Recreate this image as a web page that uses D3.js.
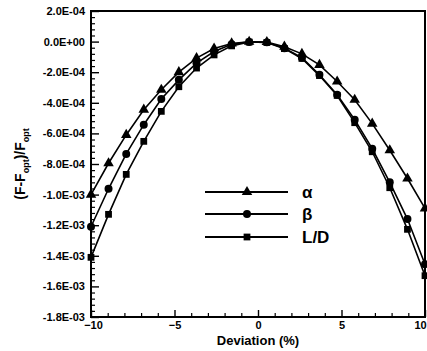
<!DOCTYPE html>
<html><head><meta charset="utf-8">
<script src="https://cdn.jsdelivr.net/npm/d3@7"></script>
<style>body{margin:0;background:#fff}svg{display:block}text{font-family:"Liberation Sans",Arial,sans-serif;font-weight:bold;fill:#000}</style>
</head><body><svg id="c" width="427" height="351"></svg>
<script>
const deviation = [-10, -8.95, -7.89, -6.84, -5.79, -4.74, -3.68, -2.63, -1.58, -0.53, 0.53, 1.58, 2.63, 3.68, 4.74, 5.79, 6.84, 7.89, 8.95, 10];
const alpha = [-1.0e-3, -7.95e-4, -6.1e-4, -4.45e-4, -3.15e-4, -2.0e-4, -1.08e-4, -4.5e-5, -1.2e-5, -1e-6, -3e-6, -3.3e-5, -8.0e-5, -1.52e-4, -2.61e-4, -3.8e-4, -5.36e-4, -7.1e-4, -8.95e-4, -1.09e-3];
const beta = [-1.21e-3, -9.62e-4, -7.34e-4, -5.43e-4, -3.75e-4, -2.5e-4, -1.41e-4, -6.5e-5, -1.7e-5, -2e-6, -5e-6, -4.3e-5, -1.05e-4, -2.17e-4, -3.47e-4, -5.1e-4, -7.0e-4, -9.2e-4, -1.16e-3, -1.455e-3];
const liftDrag = [-1.41e-3, -1.129e-3, -8.68e-4, -6.52e-4, -4.56e-4, -2.95e-4, -1.73e-4, -8.7e-5, -2.8e-5, -3e-6, -6e-6, -4.6e-5, -1.1e-4, -2.22e-4, -3.52e-4, -5.3e-4, -7.2e-4, -9.55e-4, -1.227e-3, -1.53e-3];
const seriesNames = ["α", "β", "L/D"];
const xTicks = [-10, -5, 0, 5, 10];
const yTickLabels = ["2.0E-04","0.0E+00","-2.0E-04","-4.0E-04","-6.0E-04","-8.0E-04","-1.0E-03","-1.2E-03","-1.4E-03","-1.6E-03","-1.8E-03"];
const yTickValues = [2e-4, 0, -2e-4, -4e-4, -6e-4, -8e-4, -1e-3, -1.2e-3, -1.4e-3, -1.6e-3, -1.8e-3];

const svg = d3.select("#c");
const L = 91, R = 425, T = 11, B = 317;
const x = d3.scaleLinear().domain([-10, 10]).range([L, R]);
const y = d3.scaleLinear().domain([-1.8e-3, 2e-4]).range([B, T]);

const xMinor = d3.range(-10, 10.01, 1).filter(v => v % 5 !== 0);
const yMinor = d3.range(0, 51).map(i => 2e-4 - i * 4e-5).filter((v, i) => i % 5 !== 0);

svg.append("g").attr("transform", `translate(0,${B})`)
  .call(d3.axisTop(x).tickValues(xMinor).tickSize(4).tickFormat(""))
  .call(g => g.select(".domain").remove())
  .selectAll("line").attr("stroke", "#000").attr("stroke-width", 1.2);
svg.append("g").attr("transform", `translate(0,${B})`)
  .call(d3.axisTop(x).tickValues(xTicks).tickSize(7).tickFormat(""))
  .call(g => g.select(".domain").remove())
  .selectAll("line").attr("stroke", "#000").attr("stroke-width", 1.4);
const xl = svg.append("g").attr("transform", `translate(0,${B})`)
  .call(d3.axisBottom(x).tickValues(xTicks).tickSize(0).tickPadding(4).tickFormat(d3.format("d")));
xl.select(".domain").remove();
xl.selectAll("text").attr("font-size", 11).attr("font-weight", "bold").attr("font-family", "Liberation Sans, Arial, sans-serif").attr("fill", "#000")
  .attr("dx", d => d === 10 ? -5 : d === -10 ? 2 : 0);

svg.append("g").attr("transform", `translate(${L},0)`)
  .call(d3.axisRight(y).tickValues(yMinor).tickSize(4).tickFormat(""))
  .call(g => g.select(".domain").remove())
  .selectAll("line").attr("stroke", "#000").attr("stroke-width", 1.2);
const yl = svg.append("g").attr("transform", `translate(${L},0)`)
  .call(d3.axisLeft(y).tickValues(yTickValues).tickSize(0).tickPadding(6)
    .tickFormat((d, i) => yTickLabels[i]));
yl.select(".domain").remove();
yl.selectAll("text").attr("font-size", 11).attr("font-weight", "bold").attr("font-family", "Liberation Sans, Arial, sans-serif").attr("fill", "#000");
svg.append("g").attr("transform", `translate(${L},0)`)
  .call(d3.axisRight(y).tickValues(yTickValues).tickSize(8).tickFormat(""))
  .call(g => g.select(".domain").remove())
  .selectAll("line").attr("stroke", "#000").attr("stroke-width", 1.4);

svg.append("rect").attr("x", L).attr("y", T).attr("width", R - L).attr("height", B - T)
  .attr("fill", "none").attr("stroke", "#000").attr("stroke-width", 2);

const series = [alpha, beta, liftDrag];
const symbols = [d3.symbolTriangle, d3.symbolCircle, d3.symbolSquare];
const sizes = [48, 50, 46];
const line = d3.line().x((d, i) => x(deviation[i])).y(d => y(d));
series.forEach((s, k) => {
  svg.append("path").attr("d", line(s)).attr("fill", "none").attr("stroke", "#000").attr("stroke-width", 1.6);
  svg.append("g").selectAll("path").data(s).join("path")
    .attr("transform", (d, i) => `translate(${x(deviation[i])},${y(d)})`)
    .attr("d", d3.symbol(symbols[k], sizes[k])).attr("fill", "#000");
});

const legY = [192, 214, 237];
seriesNames.forEach((n, k) => {
  svg.append("line").attr("x1", 205).attr("x2", 288).attr("y1", legY[k]).attr("y2", legY[k])
    .attr("stroke", "#000").attr("stroke-width", 2);
  svg.append("path").attr("transform", `translate(247,${legY[k]})`)
    .attr("d", d3.symbol(symbols[k], sizes[k])()).attr("fill", "#000");
  svg.append("text").attr("x", 302).attr("y", legY[k]).attr("dy", "0.36em")
    .attr("font-size", 17).text(n);
});

svg.append("text").attr("x", (L + R) / 2).attr("y", 345).attr("text-anchor", "middle")
  .attr("font-size", 13).text("Deviation (%)");
const yt = svg.append("text").attr("transform", "translate(25,164) rotate(-90)")
  .attr("text-anchor", "middle").attr("font-size", 14);
yt.append("tspan").text("(F-F");
yt.append("tspan").attr("font-size", 9).attr("dy", 4).text("opt");
yt.append("tspan").attr("dy", -4).text(")/F");
yt.append("tspan").attr("font-size", 9).attr("dy", 4).text("opt");
</script></body></html>
